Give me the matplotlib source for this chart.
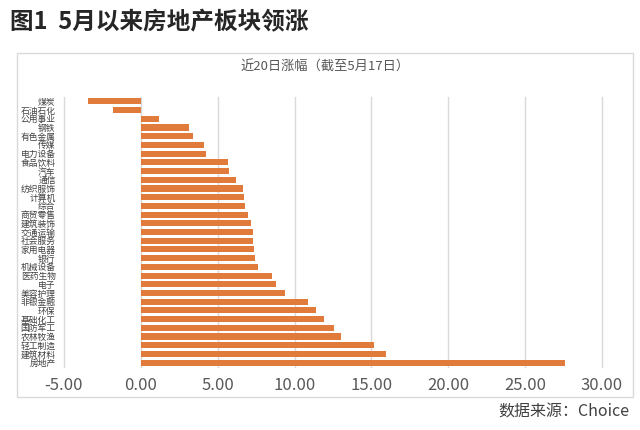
import matplotlib
matplotlib.use('Agg')
import matplotlib.pyplot as plt
import matplotlib.patches as mpatches

plt.rcParams['font.family'] = ['Noto Sans CJK SC', 'DejaVu Sans']

# Sector names (top to bottom) and 20-day change (%)
sectors = [
    '煤炭', '石油石化', '公用事业', '钢铁', '有色金属', '传媒', '电力设备',
    '食品饮料', '汽车', '通信', '纺织服饰', '计算机', '综合', '商贸零售',
    '建筑装饰', '交通运输', '社会服务', '家用电器', '银行', '机械设备',
    '医药生物', '电子', '美容护理', '非银金融', '环保', '基础化工',
    '国防军工', '农林牧渔', '轻工制造', '建筑材料', '房地产',
]
changes = [
    -3.45, -1.80, 1.18, 3.14, 3.36, 4.12, 4.23,
    5.64, 5.75, 6.19, 6.62, 6.69, 6.75, 6.97,
    7.17, 7.28, 7.29, 7.35, 7.41, 7.61,
    8.55, 8.76, 9.37, 10.85, 11.38, 11.93,
    12.54, 13.04, 15.14, 15.93, 27.60,
]
x_ticks = [-5, 0, 5, 10, 15, 20, 25, 30]

bar_color = '#E07B3C'
grid_color = '#D9D9D9'
text_gray = '#595959'

fig = plt.figure(figsize=(6.4, 4.3), dpi=100)

# Outer chart frame
frame = mpatches.Rectangle((17 / 640, 1 - 397 / 430), 616 / 640, 344 / 430,
                           transform=fig.transFigure, fill=False,
                           edgecolor='#D9D9D9', linewidth=1.0)
fig.patches.append(frame)

ax = fig.add_axes([64 / 640, 1 - 367 / 430, 538 / 640, 270 / 430])

positions = list(range(len(sectors)))
ax.barh(positions, changes, height=0.7, color=bar_color, zorder=3)

ax.set_xlim(-5, 30)
ax.set_ylim(len(sectors) - 0.5, -0.5)
ax.set_xticks(x_ticks)
ax.set_xticklabels([f'{v:.2f}' for v in x_ticks], fontsize=12, color=text_gray,
                   fontweight='light')
ax.set_yticks(positions)
ax.set_yticklabels(sectors, fontsize=6.3, color='#404040')
ax.tick_params(axis='both', length=0)
ax.tick_params(axis='x', pad=7)
ax.tick_params(axis='y', pad=6)

for x in x_ticks:
    ax.axvline(x, color=grid_color, linewidth=1.0, zorder=1, clip_on=False)

for side in ['top', 'right', 'bottom', 'left']:
    ax.spines[side].set_visible(False)

# Titles and source
fig.text(10 / 640, 1 - 22 / 430, '图1  5月以来房地产板块领涨', fontsize=17,
         fontweight='bold', color='#262626', ha='left', va='center')
fig.text(325 / 640, 1 - 67 / 430, '近20日涨幅（截至5月17日）', fontsize=9.5,
         color=text_gray, ha='center', va='center')
fig.text(629 / 640, 1 - 412 / 430, '数据来源：Choice', fontsize=11.5,
         color='#404040', ha='right', va='center')

fig.savefig('out.png', dpi=100)
